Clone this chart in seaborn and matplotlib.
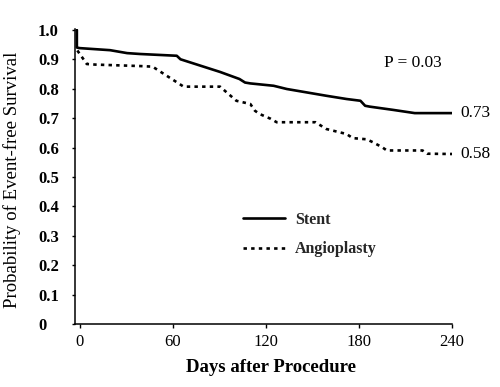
import matplotlib
matplotlib.use("Agg")
import matplotlib.pyplot as plt
import numpy as np
import pandas as pd
import seaborn as sns

# ---- data ----
stent_days = [-1.8, -1.8, 0, 19.6, 30.6, 39, 62.6, 65, 90.5, 103, 106.6, 110,
              125, 133.5, 159, 172, 181, 184, 187, 202, 216, 240]
stent_surv = [1.0, 0.94, 0.938, 0.931, 0.921, 0.918, 0.912, 0.9, 0.857, 0.833,
              0.821, 0.818, 0.81, 0.799, 0.776, 0.765, 0.759, 0.742, 0.739,
              0.728, 0.717, 0.717]

angio_days = [-1.5, 4.6, 10, 39, 47, 67, 90.5, 101, 110, 113, 116, 123, 127,
              152, 159, 172, 176, 185, 189, 195, 198, 221, 224, 240]
angio_surv = [0.93, 0.884, 0.882, 0.877, 0.875, 0.807, 0.807, 0.759, 0.748,
              0.725, 0.714, 0.698, 0.686, 0.686, 0.663, 0.646, 0.632, 0.628,
              0.618, 0.601, 0.59, 0.59, 0.579, 0.578]

series_names = ["Stent", "Angioplasty"]
end_labels = ["0.73", "0.58"]
p_text = "P = 0.03"
p_pos = (215, 0.888)

x_ticks = [0, 60, 120, 180, 240]
y_ticks = [0, 0.1, 0.2, 0.3, 0.4, 0.5, 0.6, 0.7, 0.8, 0.9, 1.0]
y_ticklabels = ["0", "0.1", "0.2", "0.3", "0.4", "0.5", "0.6", "0.7", "0.8", "0.9", "1.0"]

x_label = "Days after Procedure"
y_label = "Probability of Event-free Survival"

# ---- style ----
sns.set_theme(style="white")
plt.rcParams["font.family"] = ["Liberation Serif", "DejaVu Serif"]

fig = plt.figure(figsize=(5, 3.87), dpi=100)
ax = fig.add_axes([75 / 500, 1 - 324 / 387, 377 / 500, 295 / 387])

df_s = pd.DataFrame({"day": stent_days, "surv": stent_surv})
df_a = pd.DataFrame({"day": angio_days, "surv": angio_surv})

sns.lineplot(data=df_s, x="day", y="surv", ax=ax, color="black", lw=1.9,
             sort=False, estimator=None, label=series_names[0])
sns.lineplot(data=df_a, x="day", y="surv", ax=ax, color="black", lw=1.9,
             sort=False, estimator=None, label=series_names[1],
             linestyle=(0, (1.3, 1.6)))

ax.set_xlim(-3, 240)
ax.set_ylim(0, 1.003)

for s in ["top", "right"]:
    ax.spines[s].set_visible(False)
for s in ["left", "bottom"]:
    ax.spines[s].set_color("black")
    ax.spines[s].set_linewidth(1.1)

ax.set_xticks(x_ticks)
ax.set_xticklabels([str(t) for t in x_ticks], fontsize=12)
ax.set_yticks(y_ticks)
ax.set_yticklabels(y_ticklabels, fontsize=12, ha="left", fontweight="bold")
ax.tick_params(axis="x", bottom=True, direction="out", length=3, width=1,
               color="black", pad=4.5, labelcolor="black")
ax.tick_params(axis="y", left=True, direction="out", length=2.2, width=1,
               color="black", pad=24.4, labelcolor="black")

ax.set_xlabel(x_label, fontsize=13.5, fontweight="bold", color="black")
ax.set_ylabel(y_label, fontsize=13.5, color="black")
ax.xaxis.set_label_coords(0.52, -0.149)
ax.xaxis.label.set_va("center")
ax.yaxis.set_label_coords(-0.167, 0.49)
ax.yaxis.label.set_va("center")

leg = ax.legend(loc="upper left", bbox_to_anchor=(0.446, 0.381), frameon=False,
                borderpad=0, borderaxespad=0, handlelength=2.6,
                handletextpad=0.65, labelspacing=0.85,
                prop={"weight": "bold", "size": 11.5})

ax.text(p_pos[0], p_pos[1], p_text, ha="center", va="center", fontsize=12.5,
        color="black")
for days, surv, lab in [(stent_days, stent_surv, end_labels[0]),
                        (angio_days, angio_surv, end_labels[1])]:
    ax.annotate(lab, xy=(days[-1], surv[-1]), xytext=(6, 0),
                textcoords="offset points", ha="left", va="center",
                fontsize=12.5, color="black", annotation_clip=False)

fig.savefig("out.png", dpi=100)
